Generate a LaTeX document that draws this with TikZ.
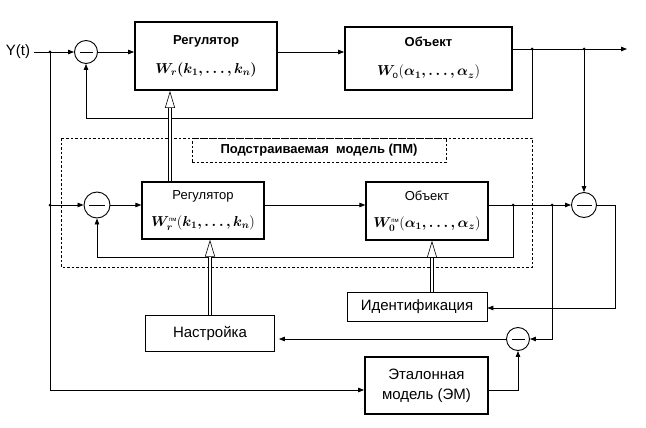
\documentclass[tikz,border=0pt]{standalone}
\usepackage{fontspec}
\setmainfont{Liberation Sans}
\usepackage{amsmath}
\usepackage{bm}
\usetikzlibrary{arrows.meta}

\newcommand{\fml}{\fontsize{14}{16}\selectfont}
\newcommand{\pmsup}{\text{\fontsize{6}{7}\selectfont пм}}

\tikzset{
  blk/.style={draw, rectangle, align=center, inner sep=0pt},
  thickblk/.style={blk, line width=1.8pt},
  midblk/.style={blk, line width=1.3pt},
  thinblk/.style={blk, line width=0.7pt},
  sumnode/.style={draw, circle, line width=0.9pt, minimum size=#1, inner sep=0pt,
    path picture={\draw[line width=0.9pt] ([xshift=5pt]path picture bounding box.west) -- ([xshift=-5pt]path picture bounding box.east);}},
  sumnode/.default=24pt,
  sig/.style={line width=0.8pt, -{Triangle[length=6pt,width=4.5pt]}},
  ln/.style={line width=0.8pt},
  hollow/.style={double, double distance=2.4pt, line width=0.6pt, -{Triangle[open, length=17pt, width=10pt]}},
  dashbox/.style={line width=0.7pt, dash pattern=on 2.5pt off 2pt},
  dot/.style={circle, fill, inner sep=0pt, minimum size=3pt},
  tit/.style={font=\fontsize{13}{15}\selectfont\bfseries},
  txt/.style={font=\fontsize{13}{15}\selectfont},
  big/.style={font=\fontsize{15}{20}\selectfont}
}

\begin{document}
\begin{tikzpicture}[x=1pt, y=-1pt]
\useasboundingbox (0,0) rectangle (646,428);

% main loop
\node[big] (yt) at (18,52) {Y(t)};
\node[sumnode=23pt] (sum1) at (86,52) {};
\node[thickblk, minimum width=142, minimum height=68, tit] (reg) at (206,56)
  {Регулятор\\[14pt]{\fml$\bm{W_r(k_1,\ldots,k_n)}$}};
\node[thickblk, minimum width=167, minimum height=63, tit] (obj) at (428.5,58.5)
  {Объект\\[14pt]{\fml$\bm{W}_{\text{\normalfont о}}(\bm{\alpha_1,\ldots,\alpha_z})$}};
\node[dot] (jy1) at (50,52) {};
\node[dot] (jo1) at (532,49) {};
\node[dot] (jo2) at (584,49) {};
\coordinate (out) at (627,49);
\coordinate (fb1) at (532,118);

\draw[sig] (yt) -- (sum1);
\draw[sig] (sum1.east) -- (reg.west |- sum1.east);
\draw[sig] (reg.east |- sum1) -- (obj.west |- sum1);
\draw[sig] (obj.east |- jo1) -- (out);
\draw[sig] (jo1.center) -- (fb1) -| (sum1.south);

% adjustable model
\draw[dashbox] (61,138) rectangle (532,267);
\node[dashbox, draw, minimum width=254, minimum height=24, tit] (pmlbl) at (319,150)
  {Подстраиваемая\ \ модель (ПМ)};
\node[dot] (jy2) at (50,205) {};
\node[sumnode=26pt] (sum2) at (97,205) {};
\node[midblk, minimum width=122, minimum height=57, txt] (regpm) at (203,210.5)
  {Регулятор\\[12pt]{\fml$\bm{W}_{\bm{r}}^{\pmsup}(\bm{k_1,\ldots,k_n})$}};
\node[midblk, minimum width=122, minimum height=58, txt] (objpm) at (427,211)
  {Объект\\[12pt]{\fml$\bm{W}_{\bm{0}}^{\pmsup}(\bm{\alpha_1,\ldots,\alpha_z})$}};
\node[dot] (jm1) at (513,205) {};
\node[dot] (jm2) at (552,205) {};
\node[sumnode=25pt] (sum3) at (584,205) {};
\coordinate (fb2) at (513,257);

\draw[sig] (jy2.center) -- (sum2);
\draw[sig] (sum2.east) -- (regpm.west |- sum2);
\draw[sig] (regpm.east |- sum2) -- (objpm.west |- sum2);
\draw[sig] (objpm.east |- sum2) -- (sum3.west);
\draw[sig] (jm1.center) -- (fb2) -| (sum2.south);
\draw[sig] (jo2.center) -- (sum3.north);

% tuning and identification
\node[thinblk, minimum width=129, minimum height=36, big] (nastr) at (210,333) {Настройка};
\node[thinblk, minimum width=140, minimum height=29, big] (ident) at (417,306.5) {Идентификация};
\node[thickblk, minimum width=123, minimum height=57, big] (em) at (426.5,385.5)
  {Эталонная\\модель (ЭМ)};
\node[sumnode=23pt] (sum4) at (518,339) {};
\coordinate (jy3) at (50,390);
\coordinate (c1) at (615,205);
\coordinate (c2) at (615,308);
\coordinate (c3) at (552,339);
\coordinate (ia) at ([xshift=15pt]ident.north);

\draw[ln] (jy1.center) -- (jy2.center);
\draw[sig] (jy2.center) -- (jy3) -- (em.west |- jy3);
\draw[sig] (sum3.east) -- (c1) -- (c2) -- (ident.east |- c2);
\draw[sig] (jm2.center) -- (c3) -- (sum4.east);
\draw[sig] (sum4.west) -- ([xshift=4pt]nastr.east |- sum4);
\draw[sig] (em.east |- jy3) -| (sum4.south);

% parameter paths
\draw[hollow] ([xshift=-33pt]regpm.north) -- ([xshift=-36pt]reg.south);
\draw[hollow] (nastr.north) -- (nastr.north |- regpm.south);
\draw[hollow] (ia) -- (ia |- objpm.south);
\end{tikzpicture}
\end{document}
